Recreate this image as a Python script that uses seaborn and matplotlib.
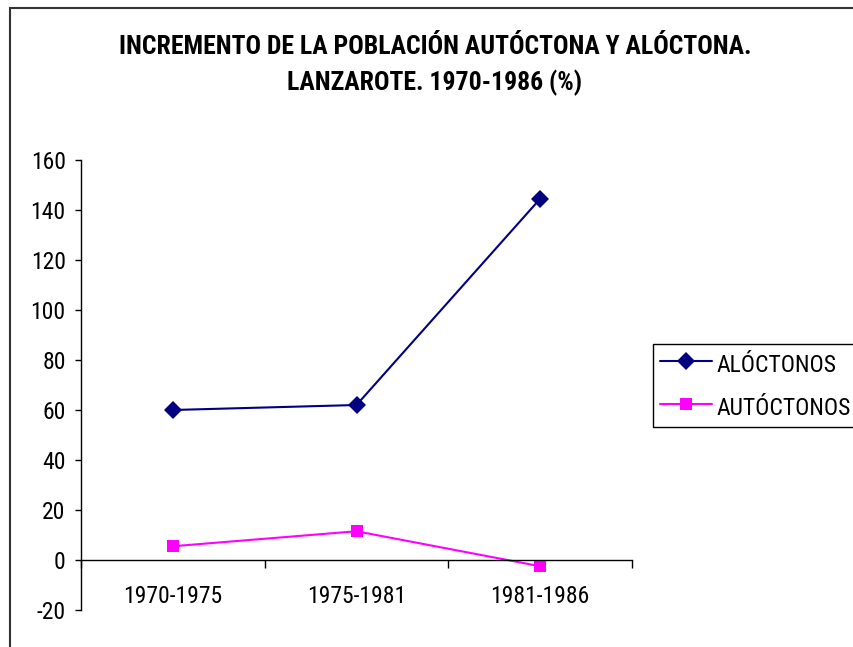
import numpy as np
import pandas as pd
import seaborn as sns
import matplotlib.pyplot as plt
from matplotlib.patches import Rectangle
from matplotlib import font_manager

periodos = ['1970-1975', '1975-1981', '1981-1986']
aloctonos = [60.0, 62.0, 144.5]
autoctonos = [5.5, 11.5, -2.5]
series = ['ALÓCTONOS', 'AUTÓCTONOS']
colores = ['#000080', '#FF00FF']
marcadores = ['D', 's']

sns.set_theme(style='white')

# the original uses a narrow Arial; take a condensed face when there is one
installed = set(f.name for f in font_manager.fontManager.ttflist)
if 'Roboto Condensed' in installed:
    fuente, t_size, tick_size, leg_size = 'Roboto Condensed', 18.5, 17, 17
    leg_kw = dict(handlelength=2.2, handletextpad=0.21, borderpad=0.3,
                  handleheight=1.3, labelspacing=0.72)
else:
    fuente, t_size, tick_size, leg_size = 'Liberation Sans', 15.5, 14.5, 14
    leg_kw = dict(handlelength=2.65, handletextpad=0.25, borderpad=0.36,
                  handleheight=1.44, labelspacing=0.9)

plt.rcParams['font.family'] = [fuente, 'DejaVu Sans']
plt.rcParams['axes.unicode_minus'] = False
plt.rcParams['text.color'] = 'black'
plt.rcParams['xtick.color'] = 'black'
plt.rcParams['ytick.color'] = 'black'

df = pd.DataFrame({
    'periodo': periodos * 2,
    'valor': aloctonos + autoctonos,
    'serie': [series[0]] * 3 + [series[1]] * 3,
})

fig = plt.figure(figsize=(8.54, 6.47), dpi=100)
ax = fig.add_axes([81 / 854, 1 - 610 / 647, (632 - 81) / 854, 450 / 647])

sns.lineplot(data=df, x='periodo', y='valor', hue='serie', style='serie',
             palette=colores, markers=marcadores, dashes=False, markersize=9,
             markeredgewidth=0, linewidth=1.5, ax=ax, legend=True)

ax.set_xlim(-0.5, 2.5)
ax.set_ylim(-20, 160)
ax.set_yticks(np.arange(-20, 161, 20))
ax.set_xlabel('')
ax.set_ylabel('')

for s in ['top', 'right']:
    ax.spines[s].set_visible(False)
ax.spines['bottom'].set_position(('data', 0))
for s in ['left', 'bottom']:
    ax.spines[s].set_color('black')
    ax.spines[s].set_linewidth(1.0)

ax.tick_params(axis='y', direction='out', length=4, width=1, color='black',
               labelsize=tick_size, pad=7, left=True)
ax.tick_params(axis='x', which='major', length=0, labelsize=tick_size, pad=18)
ax.set_xticks([-0.5, 0.5, 1.5, 2.5], minor=True)
ax.tick_params(axis='x', which='minor', direction='out', length=6, width=1,
               color='black', bottom=True)

handles, labels = ax.get_legend_handles_labels()
ax.legend(handles, labels, loc='upper left',
          bbox_to_anchor=(653 / 854, 1 - 344 / 647), bbox_transform=fig.transFigure,
          frameon=True, fancybox=False, edgecolor='black', framealpha=1,
          fontsize=leg_size, borderaxespad=0, **leg_kw)
ax.get_legend().get_frame().set_linewidth(1.0)

fig.text(435 / 854, 1 - 47 / 647, 'INCREMENTO DE LA POBLACIÓN AUTÓCTONA Y ALÓCTONA.',
         ha='center', va='center', fontsize=t_size, fontweight='bold')
fig.text(435 / 854, 1 - 83 / 647, 'LANZAROTE. 1970-1986 (%)',
         ha='center', va='center', fontsize=t_size, fontweight='bold')

fig.patches.append(Rectangle((10 / 854, -0.05), 1.0, 1 - 8 / 647 + 0.05,
                             transform=fig.transFigure, fill=False,
                             edgecolor='#333333', linewidth=1.5))

fig.savefig('out.png', dpi=100)
